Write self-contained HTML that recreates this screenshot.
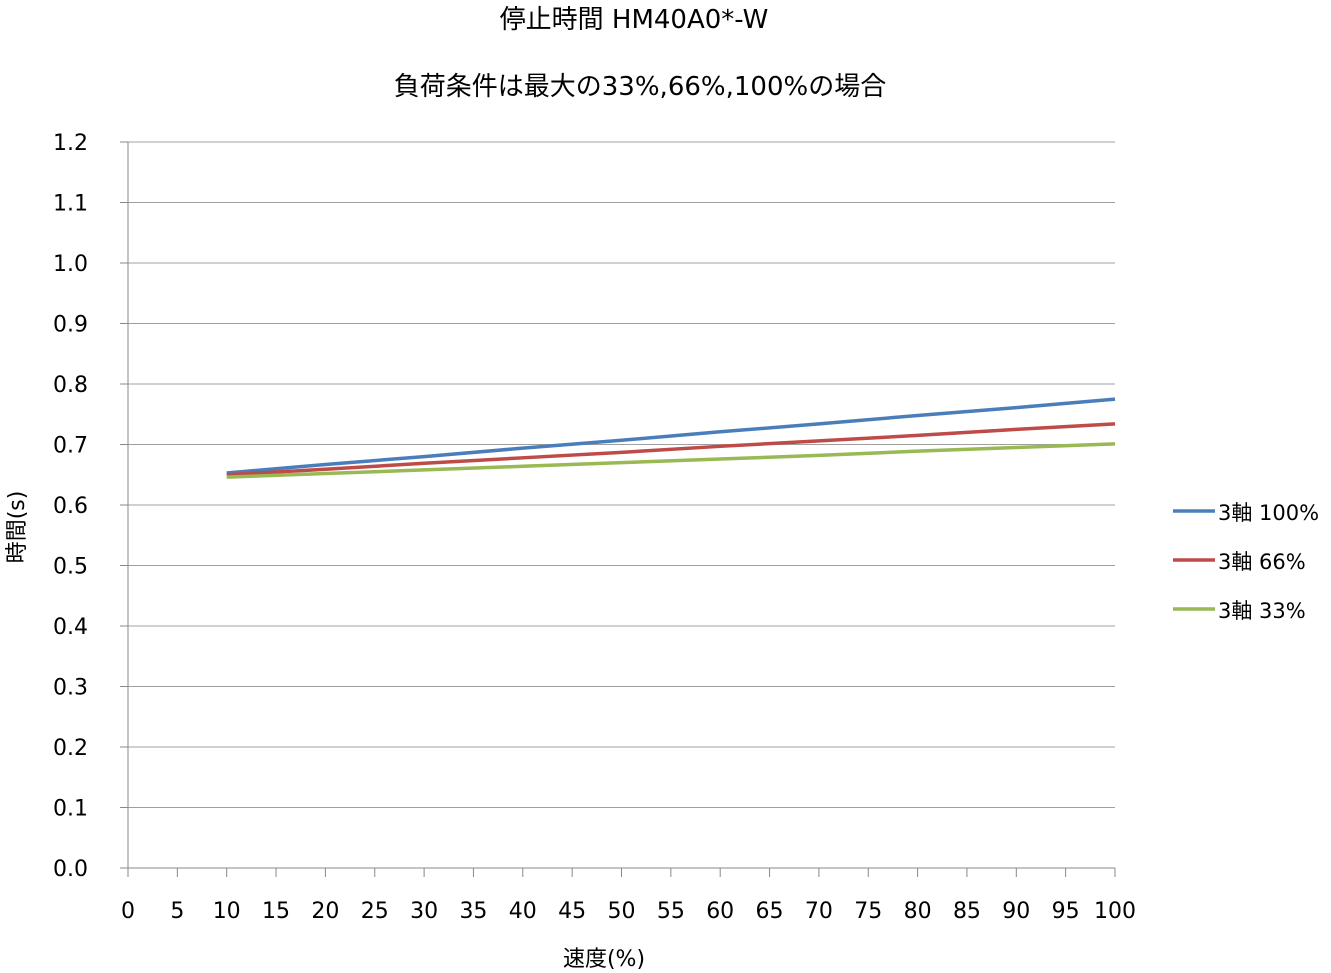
<!DOCTYPE html>
<html><head><meta charset="utf-8"><style>
body{margin:0;background:#fff}
svg{display:block}
text{font-family:"DejaVu Sans","Noto Sans CJK JP",sans-serif;fill:#000}
</style></head><body>
<svg width="1331" height="973">
<text x="634" y="28" text-anchor="middle" font-size="26">停止時間 HM40A0*-W</text>
<text x="640" y="95" text-anchor="middle" font-size="26">負荷条件は最大の33%,66%,100%の場合</text>
<g id="grid"></g>
<g id="axes"></g>
<g id="series"></g>
<text x="604" y="966" text-anchor="middle" font-size="22">速度(%)</text>
<text transform="translate(24,527) rotate(-90)" text-anchor="middle" font-size="22">時間(s)</text>
<g id="legend"></g>
</svg>
<script>
const xCats=[10,20,30,40,50,60,70,80,90,100];
const s100=[0.653,0.667,0.680,0.694,0.707,0.721,0.734,0.748,0.761,0.775];
const s66=[0.650,0.659,0.669,0.678,0.687,0.697,0.706,0.715,0.725,0.734];
const s33=[0.646,0.652,0.658,0.664,0.670,0.676,0.682,0.689,0.695,0.701];
const yTicks=["0.0","0.1","0.2","0.3","0.4","0.5","0.6","0.7","0.8","0.9","1.0","1.1","1.2"];
const xTicks=[0,5,10,15,20,25,30,35,40,45,50,55,60,65,70,75,80,85,90,95,100];
const seriesNames=["3軸 100%","3軸 66%","3軸 33%"];
const NS="http://www.w3.org/2000/svg";
const X0=128,X1=1115,Y0=868,Y1=142;
const xs=v=>X0+(X1-X0)*v/100;
const ys=v=>Y0-(Y0-Y1)*v/1.2;
function mk(t,a,p){const e=document.createElementNS(NS,t);for(const k in a)e.setAttribute(k,a[k]);p.appendChild(e);return e;}
const grid=document.getElementById('grid'),axes=document.getElementById('axes'),ser=document.getElementById('series'),leg=document.getElementById('legend');
yTicks.forEach(t=>{const v=parseFloat(t),y=ys(v);
 if(v>0){const g=mk('line',{x1:X0,x2:X1,y1:y,y2:y,stroke:'#a0a0a0','stroke-width':1},grid);
 
 }
 const tk=mk('line',{x1:X0-8,x2:X0,y1:y,y2:y,stroke:'#888'},axes);
 
 
 const tx=mk('text',{x:88,y:y+8,'text-anchor':'end','font-size':22},axes);tx.textContent=t;
 
 
});
const ya=mk('line',{x1:X0,x2:X0,y1:Y1,y2:Y0,stroke:'#888'},axes);


const xa=mk('line',{x1:X0,x2:X1,y1:Y0,y2:Y0,stroke:'#888'},axes);


xTicks.forEach(t=>{const x=xs(t);
 const tk=mk('line',{x1:x,x2:x,y1:Y0,y2:Y0+9,stroke:'#888'},axes);
 
 
 const tx=mk('text',{x:x,y:918,'text-anchor':'middle','font-size':22},axes);tx.textContent=t;
 
 
});
const data=[s100,s66,s33],cols=['#4a7ebb','#be4b48','#98b954'];
data.forEach((d,i)=>{
 const pl=mk('polyline',{points:d.map((v,j)=>xs(xCats[j])+','+ys(v)).join(' '),fill:'none',stroke:cols[i],'stroke-width':3.5},ser);
 
 
 const ly=511+i*49;
 const ll=mk('line',{x1:1173,x2:1215,y1:ly,y2:ly,stroke:cols[i],'stroke-width':3.5},leg);
 
 
 const lt=mk('text',{x:1218,y:ly+9,'font-size':21},leg);lt.textContent=seriesNames[i];
 
 
});
</script>
</body></html>
